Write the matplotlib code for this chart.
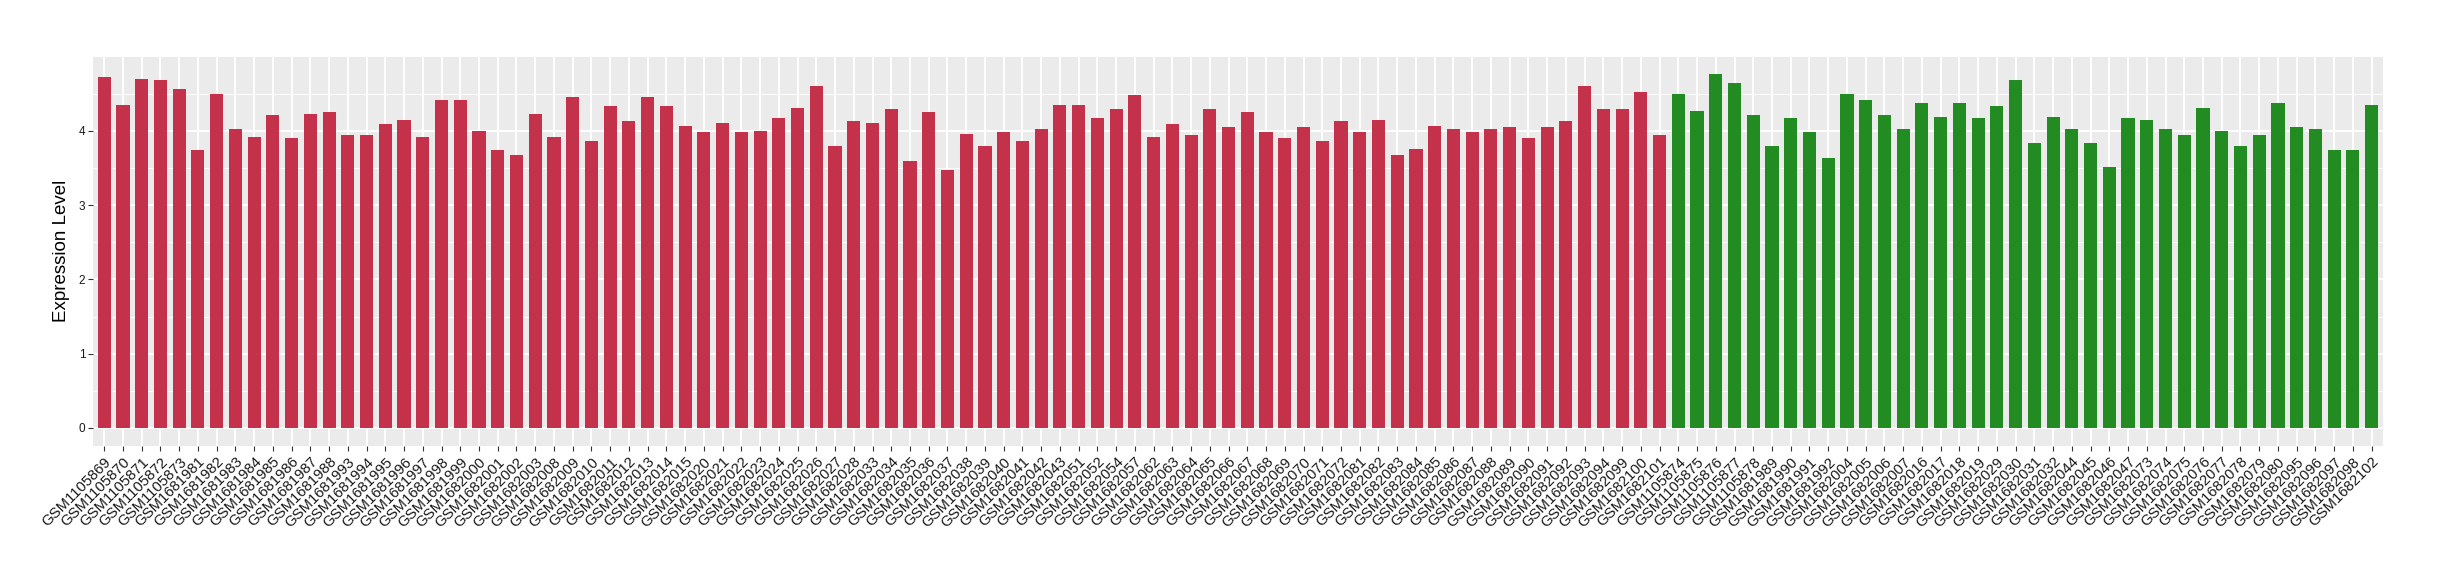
import matplotlib
matplotlib.use("Agg")
import matplotlib.pyplot as plt
import numpy as np

# sample ids, first group (red) then second group (green)
group_a = ["GSM1105869", "GSM1105870", "GSM1105871", "GSM1105872", "GSM1105873",
           "GSM1681981", "GSM1681982", "GSM1681983", "GSM1681984", "GSM1681985",
           "GSM1681986", "GSM1681987", "GSM1681988", "GSM1681993", "GSM1681994",
           "GSM1681995", "GSM1681996", "GSM1681997", "GSM1681998", "GSM1681999",
           "GSM1682000", "GSM1682001", "GSM1682002", "GSM1682003", "GSM1682008",
           "GSM1682009", "GSM1682010", "GSM1682011", "GSM1682012", "GSM1682013",
           "GSM1682014", "GSM1682015", "GSM1682020", "GSM1682021", "GSM1682022",
           "GSM1682023", "GSM1682024", "GSM1682025", "GSM1682026", "GSM1682027",
           "GSM1682028", "GSM1682033", "GSM1682034", "GSM1682035", "GSM1682036",
           "GSM1682037", "GSM1682038", "GSM1682039", "GSM1682040", "GSM1682041",
           "GSM1682042", "GSM1682043", "GSM1682051", "GSM1682052", "GSM1682054",
           "GSM1682057", "GSM1682062", "GSM1682063", "GSM1682064", "GSM1682065",
           "GSM1682066", "GSM1682067", "GSM1682068", "GSM1682069", "GSM1682070",
           "GSM1682071", "GSM1682072", "GSM1682081", "GSM1682082", "GSM1682083",
           "GSM1682084", "GSM1682085", "GSM1682086", "GSM1682087", "GSM1682088",
           "GSM1682089", "GSM1682090", "GSM1682091", "GSM1682092", "GSM1682093",
           "GSM1682094", "GSM1682099", "GSM1682100", "GSM1682101"]
values_a = [4.72, 4.35, 4.70, 4.68, 4.56, 3.74, 4.49, 4.03, 3.92, 4.22,
            3.91, 4.23, 4.26, 3.94, 3.94, 4.09, 4.15, 3.92, 4.41, 4.41,
            4.00, 3.74, 3.67, 4.23, 3.92, 4.45, 3.87, 4.33, 4.13, 4.46,
            4.33, 4.07, 3.98, 4.11, 3.99, 4.00, 4.17, 4.31, 4.60, 3.80,
            4.13, 4.11, 4.29, 3.59, 4.26, 3.47, 3.96, 3.79, 3.99, 3.87,
            4.02, 4.35, 4.35, 4.17, 4.30, 4.48, 3.92, 4.09, 3.94, 4.29,
            4.05, 4.25, 3.98, 3.90, 4.05, 3.86, 4.13, 3.99, 4.14, 3.68,
            3.76, 4.07, 4.02, 3.98, 4.03, 4.05, 3.90, 4.05, 4.13, 4.61,
            4.30, 4.29, 4.52, 3.94]

group_b = ["GSM1105874", "GSM1105875", "GSM1105876", "GSM1105877", "GSM1105878",
           "GSM1681989", "GSM1681990", "GSM1681991", "GSM1681992", "GSM1682004",
           "GSM1682005", "GSM1682006", "GSM1682007", "GSM1682016", "GSM1682017",
           "GSM1682018", "GSM1682019", "GSM1682029", "GSM1682030", "GSM1682031",
           "GSM1682032", "GSM1682044", "GSM1682045", "GSM1682046", "GSM1682047",
           "GSM1682073", "GSM1682074", "GSM1682075", "GSM1682076", "GSM1682077",
           "GSM1682078", "GSM1682079", "GSM1682080", "GSM1682095", "GSM1682096",
           "GSM1682097", "GSM1682098", "GSM1682102"]
values_b = [4.50, 4.27, 4.76, 4.64, 4.21, 3.79, 4.17, 3.99, 3.63, 4.50,
            4.42, 4.22, 4.03, 4.38, 4.18, 4.37, 4.17, 4.33, 4.69, 3.84,
            4.19, 4.02, 3.84, 3.51, 4.17, 4.15, 4.02, 3.94, 4.31, 4.00,
            3.80, 3.95, 4.37, 4.05, 4.03, 3.74, 3.74, 4.35]

color_a = "#C3314A"
color_b = "#228B22"

plt.rcParams["font.family"] = ["Liberation Sans", "DejaVu Sans"]

labels = group_a + group_b
values = values_a + values_b
colors = [color_a] * len(group_a) + [color_b] * len(group_b)
x = np.arange(len(labels))

fig = plt.figure(figsize=(24.4, 5.8), dpi=100)
ax = fig.add_axes([0.0381, 0.2316, 0.9385, 0.6706])

# ggplot-like grey panel
ax.set_facecolor("#EBEBEB")
ax.bar(x, values, width=0.7, color=colors, zorder=3)

ax.set_xlim(-0.6, len(labels) - 1 + 0.6)
ymax = max(values)
ax.set_ylim(-0.05 * ymax, ymax * 1.05)
ax.set_yticks([0, 1, 2, 3, 4])
ax.set_yticks([0.5, 1.5, 2.5, 3.5, 4.5], minor=True)
ax.set_xticks(x)
ax.set_xticklabels(labels, rotation=45, ha="right", rotation_mode="anchor",
                   fontsize=10.7, color="#1a1a1a")

ax.grid(True, which="major", color="white", linewidth=1.4, zorder=0)
ax.grid(True, which="minor", axis="y", color="white", linewidth=0.7, zorder=0)
ax.set_axisbelow(True)
for spine in ax.spines.values():
    spine.set_visible(False)

ax.tick_params(axis="both", which="major", length=3.5, width=0.8, color="#333333")
ax.tick_params(axis="y", labelsize=8.5, labelcolor="#1a1a1a", pad=2)
ax.tick_params(axis="x", pad=3)
ax.tick_params(which="minor", length=0)

ax.set_ylabel("Expression Level", fontsize=13.5, labelpad=6)

fig.savefig("out.png", dpi=100)
